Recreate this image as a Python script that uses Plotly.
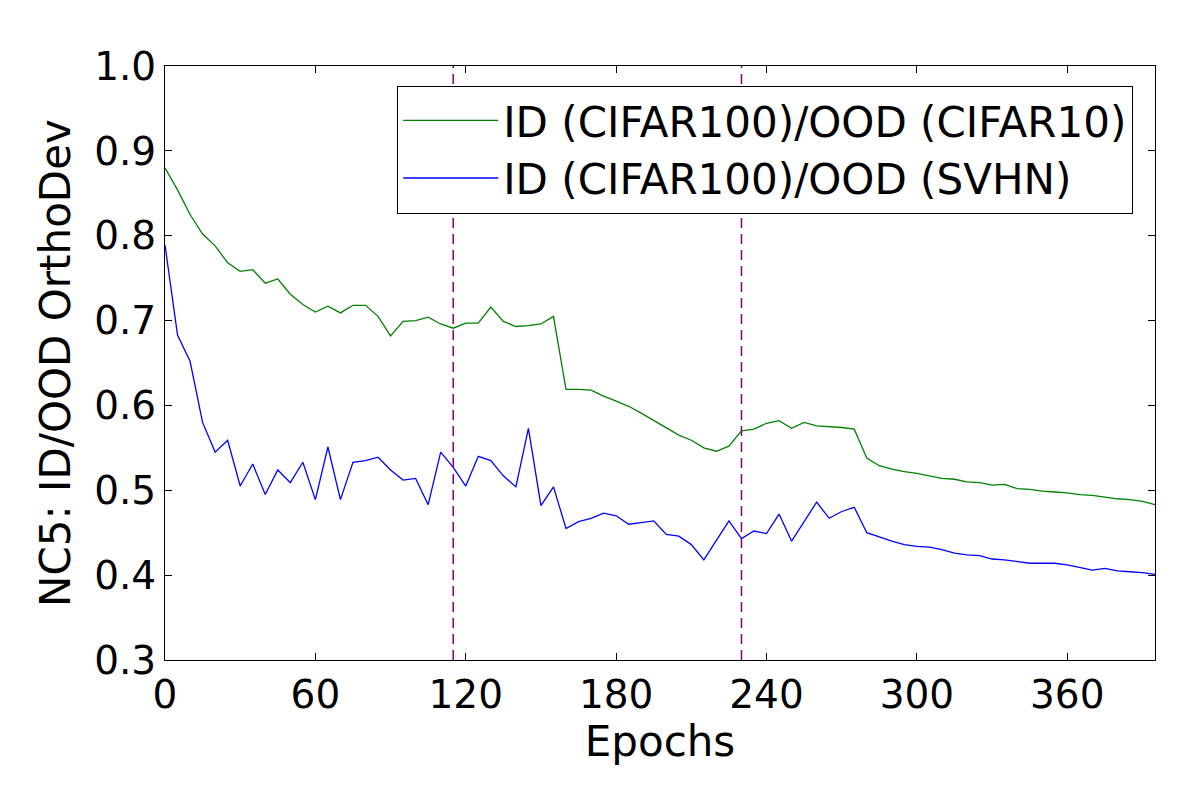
import plotly.graph_objects as go

# epochs (every 5)
epochs = list(range(0, 400, 5))

# ID (CIFAR100)/OOD (CIFAR10)
cifar10 = [0.880, 0.854, 0.825, 0.802, 0.788, 0.768, 0.758, 0.760, 0.744, 0.749,
           0.731, 0.719, 0.710, 0.717, 0.709, 0.718, 0.718, 0.705, 0.682, 0.699,
           0.700, 0.704, 0.696, 0.691, 0.697, 0.697, 0.716, 0.699, 0.693, 0.694,
           0.696, 0.705, 0.619, 0.619, 0.618, 0.611, 0.605, 0.599, 0.591, 0.582,
           0.574, 0.565, 0.559, 0.550, 0.546, 0.552, 0.570, 0.572, 0.579, 0.582,
           0.573, 0.580, 0.576, 0.575, 0.574, 0.572, 0.538, 0.529, 0.525, 0.522,
           0.520, 0.517, 0.514, 0.513, 0.510, 0.509, 0.506, 0.507, 0.502, 0.501,
           0.499, 0.498, 0.497, 0.495, 0.494, 0.492, 0.490, 0.489, 0.487, 0.483]

# ID (CIFAR100)/OOD (SVHN)
svhn = [0.789, 0.683, 0.652, 0.580, 0.545, 0.559, 0.505, 0.531, 0.495, 0.524,
        0.509, 0.533, 0.489, 0.551, 0.489, 0.533, 0.535, 0.539, 0.524, 0.512,
        0.514, 0.483, 0.545, 0.527, 0.505, 0.540, 0.535, 0.517, 0.504, 0.573,
        0.482, 0.504, 0.455, 0.463, 0.467, 0.473, 0.470, 0.460, 0.462, 0.464,
        0.448, 0.446, 0.436, 0.418, 0.441, 0.464, 0.443, 0.452, 0.449, 0.472,
        0.440, 0.463, 0.486, 0.467, 0.475, 0.480, 0.450, 0.445, 0.440, 0.436,
        0.434, 0.433, 0.430, 0.426, 0.424, 0.423, 0.419, 0.418, 0.416, 0.414,
        0.414, 0.414, 0.412, 0.409, 0.406, 0.408, 0.405, 0.404, 0.403, 0.401]

# lr decay epochs
milestones = [115, 230]

xticks = [0, 60, 120, 180, 240, 300, 360]
yticks = [0.3, 0.4, 0.5, 0.6, 0.7, 0.8, 0.9, 1.0]

fig = go.Figure()
fig.add_trace(go.Scatter(x=epochs, y=cifar10, mode='lines', name='ID (CIFAR100)/OOD (CIFAR10)',
                         line=dict(color='#008000', width=1.3)))
fig.add_trace(go.Scatter(x=epochs, y=svhn, mode='lines', name='ID (CIFAR100)/OOD (SVHN)',
                         line=dict(color='#0000ff', width=1.3)))

for m in milestones:
    fig.add_vline(x=m, line=dict(color='#800080', width=1.5, dash='10px,6px'))

axis_style = dict(showline=True, linecolor='black', linewidth=1, mirror='ticks',
                  ticks='inside', ticklen=7, tickcolor='black', showgrid=False,
                  zeroline=False, tickfont=dict(size=39, color='black'))

# page has an 8px body margin, so the figure is a bit smaller than the window
fig.update_layout(
    width=1192, height=792,
    paper_bgcolor='white', plot_bgcolor='white',
    font=dict(family='DejaVu Sans', size=39, color='black'),
    margin=dict(l=157, r=45, t=58, b=140),
    xaxis=dict(range=[0, 395], tickvals=xticks,
               title=dict(text='Epochs', standoff=0, font=dict(size=42)), **axis_style),
    yaxis=dict(range=[0.3, 1.0], tickvals=yticks, tickformat='.1f',
               title=dict(text='NC5: ID/OOD OrthoDev', standoff=10, font=dict(size=42)), **axis_style),
    legend=dict(x=0.978, y=0.967, xanchor='right', yanchor='top',
                bgcolor='white', bordercolor='black', borderwidth=1,
                font=dict(size=42), itemwidth=95, tracegroupgap=0),
    showlegend=True,
)

fig.write_html("out.html")
